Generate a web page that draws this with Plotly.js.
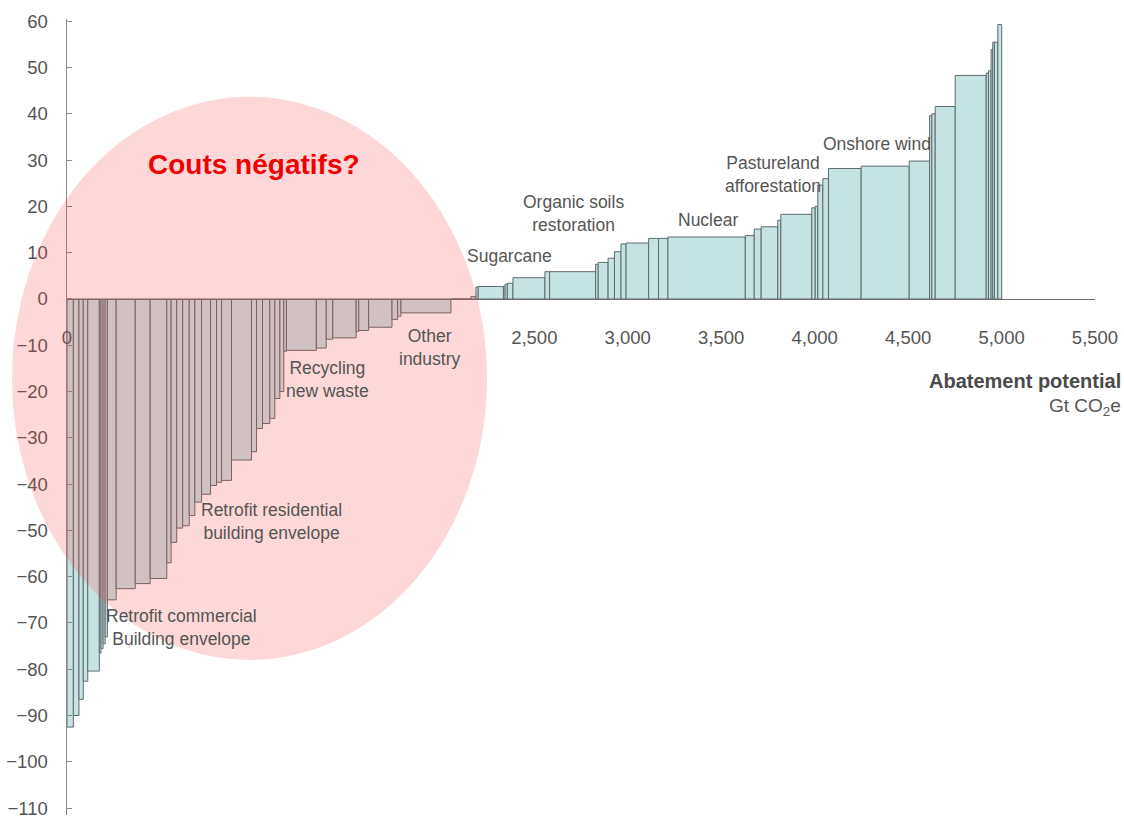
<!DOCTYPE html>
<html>
<head>
<meta charset="utf-8">
<script src="https://cdn.plot.ly/plotly-3.0.1.min.js"></script>
<style>
html,body{margin:0;padding:0;background:#fff;}
#chart{width:1124px;height:819px;}
</style>
</head>
<body>
<div id="chart"></div>
<script>
// Abatement potential of each measure (Mt CO2e, bar widths), in cost order
const widths = [34,30,23,24,62,9,11,11,12,47,102,80,89,23,30,32,35,30,36,48,32,27,53,107,27,32,39,27,27,21,14,160,53,35,125,14,53,125,30,18,267,107,
  27,12,135,9,12,30,171,25,246,14,53,34,35,27,121,53,50,414,48,37,89,16,166,18,14,27,30,175,257,109,12,18,107,166,12,14,9,9,18,21];
// Abatement cost of each measure (EUR/t CO2e)
const costs = [-92.5,-90,-86.5,-82.6,-80.4,-76.5,-75.5,-74.5,-73,-65,-62.6,-61.5,-60.4,-57,-52.6,-49.5,-49,-46.8,-43.9,-42.2,-40.3,-39.6,-39.2,-34.8,-33,-28,-26.9,-25.8,-21.5,-20,-11.3,-11.1,-10.6,-8.7,-8.4,-7,-6.8,-6.1,-4.4,-3.7,-3.0,0,
  0.5,2.6,2.7,2.8,3.2,3.4,4.6,5.9,5.9,7.5,7.9,8.8,10.2,11.9,12.1,13.1,13.1,13.4,13.7,15.1,15.6,17,18.3,19.7,20,24.6,26,28.2,28.7,29.8,39.6,40,41.6,48.3,48.8,49.3,53.9,55.5,55.5,59.3];

const xTickVals = [0,2500,3000,3500,4000,4500,5000,5500];
const xTickText = ["0","2,500","3,000","3,500","4,000","4,500","5,000","5,500"];
const yTickVals = [60,50,40,30,20,10,0,-10,-20,-30,-40,-50,-60,-70,-80,-90,-100,-110];

const labels = [
  {text:"Couts négatifs?", x:1000, y:29},
  {text:"Recycling<br>new waste", x:1395, y:-17.5},
  {text:"Other<br>industry", x:1940, y:-10.5},
  {text:"Retrofit residential<br>building envelope", x:1095, y:-48},
  {text:"Retrofit commercial<br>Building envelope", x:615, y:-71},
  {text:"Sugarcane", x:2365, y:9.3},
  {text:"Organic soils<br>restoration", x:2710, y:18.5},
  {text:"Nuclear", x:3430, y:17},
  {text:"Pastureland<br>afforestation", x:3775, y:26.8},
  {text:"Onshore wind", x:4335, y:33.5}
];

// cumulative positions
const centers = [];
let acc = 0;
for (let i = 0; i < widths.length; i++) {
  centers.push(acc + widths[i] / 2);
  acc += widths[i];
}

const FONT = '"Liberation Sans", Arial, sans-serif';
const yr = [-111.5, 60.5];
const xr = [0, 5500];

const trace = {
  type: 'bar',
  x: centers,
  y: costs,
  width: widths,
  marker: {color: '#c6e3e4', line: {color: '#5e6a6b', width: 1}},
  hoverinfo: 'x+y'
};

const annotations = labels.map((l, i) => ({
  x: l.x, y: l.y, xref: 'x', yref: 'y', text: l.text, showarrow: false,
  align: 'center',
  font: i === 0 ? {family: FONT, size: 28, color: '#f00000', weight: 'bold'}
                : {family: FONT, size: 17.5, color: '#555555'}
}));
annotations.push({xref: 'paper', yref: 'paper', x: 1.027, y: (-17.8 - yr[0]) / (yr[1] - yr[0]), xanchor: 'right', yanchor: 'middle',
  text: '<b>Abatement potential</b>', showarrow: false, font: {family: FONT, size: 20, color: '#4a4a4a'}});
annotations.push({xref: 'paper', yref: 'paper', x: 1.027, y: (-23.3 - yr[0]) / (yr[1] - yr[0]), xanchor: 'right', yanchor: 'middle',
  text: 'Gt CO<sub>2</sub>e', showarrow: false, font: {family: FONT, size: 19, color: '#555555'}});

// highlight ellipse (data units converted to paper)
const ex0 = -294, ex1 = 2247, ey0 = -78, ey1 = 43.7;
const toPx = v => (v - xr[0]) / (xr[1] - xr[0]);
const toPy = v => (v - yr[0]) / (yr[1] - yr[0]);

const layout = {
  width: 1124, height: 819,
  margin: {l: 67, r: 29, t: 19, b: 4},
  paper_bgcolor: '#ffffff', plot_bgcolor: '#ffffff',
  showlegend: false,
  bargap: 0,
  xaxis: {
    range: xr, anchor: 'free', position: toPy(0),
    showline: true, linecolor: '#6d6d6d', linewidth: 1.5,
    showgrid: false, zeroline: false,
    tickvals: xTickVals, ticktext: xTickText, ticks: '',
    ticklabelstandoff: 21,
    tickfont: {family: FONT, size: 18.5, color: '#555555'}
  },
  yaxis: {
    range: yr, showline: true, linecolor: '#8a8a8a', linewidth: 1.5,
    showgrid: false, zeroline: false,
    tickvals: yTickVals, ticks: 'inside', ticklen: 5, tickcolor: '#8a8a8a',
    ticklabelstandoff: 14,
    tickfont: {family: FONT, size: 18.5, color: '#555555'}
  },
  shapes: [{
    type: 'circle', xref: 'paper', yref: 'paper', layer: 'above',
    x0: toPx(ex0), x1: toPx(ex1), y0: toPy(ey0), y1: toPy(ey1),
    fillcolor: 'rgba(250,60,60,0.2)', line: {width: 0}
  }],
  annotations: annotations
};

Plotly.newPlot('chart', [trace], layout, {displayModeBar: false, staticPlot: true});
</script>
</body>
</html>
